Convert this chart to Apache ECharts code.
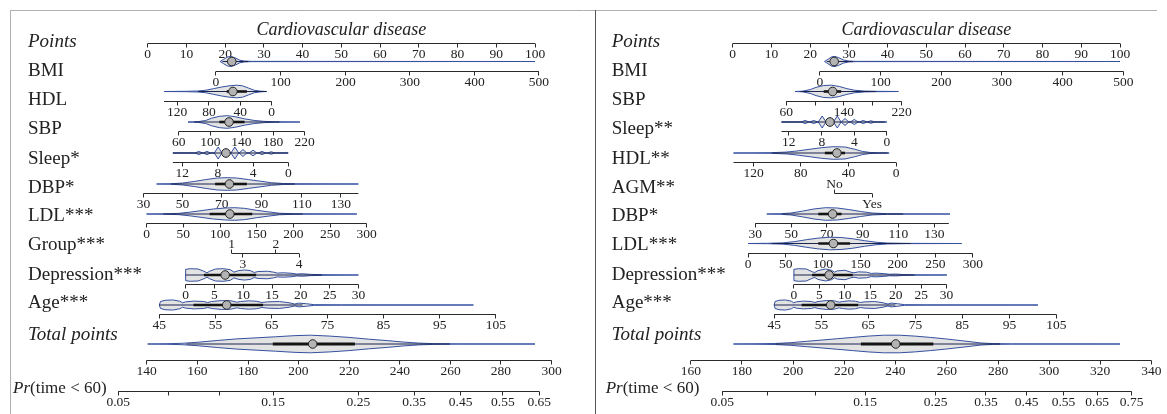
<!DOCTYPE html>
<html><head><meta charset="utf-8">
<script src="https://cdn.jsdelivr.net/npm/echarts@6/dist/echarts.min.js"></script>
<style>html,body{margin:0;padding:0;background:#fff}#c{width:1167px;height:414px}</style>
</head><body><div id="c"></div>
<script>
// ================= DATA =================
const titleText = 'Cardiovascular disease';
const pointsTicks = [0,10,20,30,40,50,60,70,80,90,100];

// ---- LEFT model: tick labels and their position on the Points scale ----
const L_BMI_ticks = ['0','100','200','300','400','500'];
const L_BMI_pos = [17.6,34.3,51.1,67.7,84.4,101.0];
const L_BMI_violin = [[18.7,0],[19.6,0.35],[20.6,0.7],[21.5,0.8],[22.5,0.6],[23.8,0.2],[25,0.06],[27,0.02],[100,0]];
const L_BMI_box = [19.3,20.9,21.7,22.7,26];

const L_HDL_ticks = ['120','80','40','0'];
const L_HDL_pos = [7.6,15.8,23.9,32.0];
const L_HDL_range = [4.2,32.0];
const L_HDL_violin = [[4.2,0],[10,0.03],[13,0.08],[15,0.2],[17,0.45],[19,0.7],[21,0.9],[23,1],[24.5,0.9],[26,0.55],[27.5,0.2],[29,0.06],[30.7,0]];
const L_HDL_box = [13,20.4,22.0,25.6,30.7];

const L_SBP_ticks = ['60','100','140','180','220'];
const L_SBP_pos = [8.0,16.2,24.2,32.4,40.5];
const L_SBP_violin = [[10.4,0],[13,0.05],[15,0.25],[16.5,0.6],[18.5,0.9],[20.5,1],[22.5,0.85],[25,0.5],[27.5,0.25],[30,0.1],[33,0.04],[39.3,0]];
const L_SBP_box = [12,18.5,21.0,25,34];

const L_Sleep_ticks = ['12','8','4','0'];
const L_Sleep_pos = [8.9,18.1,27.2,36.3];
const L_Sleep_range = [6.5,36.3];
const L_Sleep_dots = [[13.2,0.25],[15.3,0.25],[18.2,0.95],[20.2,0.7],[22.5,0.95],[24.6,0.55],[27.2,0.45],[29.5,0.25],[31.9,0.2]];
const L_Sleep_box = [6.5,20.2,20.2,20.2,36.2];

const L_DBP_ticks = ['30','50','70','90','110','130'];
const L_DBP_pos = [-1.1,9.0,19.1,29.4,39.8,49.9];
const L_DBP_range = [-1.1,54.4];
const L_DBP_violin = [[2.3,0],[6,0.04],[9,0.15],[12,0.4],[15,0.7],[18,0.95],[20.5,1],[23,0.95],[26,0.7],[29,0.45],[32,0.2],[35,0.08],[38,0.04],[54.4,0]];
const L_DBP_box = [6,17.4,21.1,25.6,38];

const L_LDL_ticks = ['0','50','100','150','200','250','300'];
const L_LDL_pos = [-0.3,9.2,18.7,28.1,37.6,47.1,56.5];
const L_LDL_violin = [[-0.3,0],[4,0.03],[8,0.1],[11,0.3],[14,0.55],[17,0.8],[20,0.95],[22.5,1],[25,0.9],[28,0.6],[31,0.35],[34,0.12],[38,0.04],[54,0]];
const L_LDL_box = [4,16,21.2,27,40];

const L_Group_ticks = ['1','2','3','4'];
const L_Group_pos = [21.7,33.1,24.6,39.1];
const L_Group_side = [-1,-1,1,1];

const L_Dep_ticks = ['0','5','10','15','20','25','30'];
const L_Dep_pos = [9.8,17.2,24.7,32.1,39.5,47.0,54.4];
const L_Dep_violin = [[9.8,0],[9.8,0.9],[11,1],[13,0.95],[14.5,0.6],[15.3,0.35],[16,0.6],[17.5,0.95],[19.5,1],[21.3,0.85],[22.3,0.45],[23.5,0.7],[25,0.8],[26.5,0.7],[27.5,0.4],[28.5,0.55],[31,0.6],[32.5,0.45],[33.5,0.3],[35,0.35],[37,0.28],[38.5,0.15],[40,0.2],[42,0.1],[45,0.05],[54.4,0]];
const L_Dep_box = [9.8,14.5,20.0,28,45];

const L_Age_ticks = ['45','55','65','75','85','95','105'];
const L_Age_pos = [3.0,17.5,32.0,46.4,60.9,75.4,89.9];
const L_Age_violin = [[3.0,0],[3.3,0.55],[4.5,0.75],[6.5,0.8],[8.3,0.6],[9.0,0.35],[9.8,0.5],[12,0.62],[14.5,0.55],[15.5,0.4],[16.5,0.55],[19,0.7],[21.5,0.66],[23,0.45],[24,0.55],[26,0.66],[28,0.6],[29.5,0.4],[31,0.5],[34,0.55],[36.5,0.35],[38,0.15],[39,0.3],[41,0.2],[43,0.05],[50,0.02],[84.1,0]];
const L_Age_box = [3.0,11.8,20.4,29.8,40];

const L_Total_ticks = ['140','160','180','200','220','240','260','280','300'];
const L_Total_pos = [-0.3,12.8,25.9,38.9,52.0,65.1,78.2,91.2,104.3];
const L_Total_violin = [[0,0],[5,0.03],[9,0.08],[13,0.2],[18,0.4],[23,0.58],[28,0.7],[33,0.82],[38,0.95],[42,1],[47,0.9],[52,0.75],[57,0.55],[62,0.38],[66,0.22],[70,0.1],[74,0.04],[80,0.01],[100,0]];
const L_Total_box = [10,32.3,42.6,53.5,78];

const L_Pr_ticks = ['0.05','','','0.15','0.25','0.35','0.45','0.55','0.65'];
const L_Pr_pos = [-7.6,5.3,18.5,32.4,54.4,68.8,80.8,91.7,101.1];

// ---- RIGHT model ----
const R_BMI_ticks = ['0','100','200','300','400','500'];
const R_BMI_pos = [22.5,38.2,53.9,69.5,85.2,100.9];
const R_BMI_violin = [[23.7,0],[24.6,0.35],[25.6,0.75],[26.4,0.8],[27.4,0.6],[28.6,0.25],[30,0.06],[32,0.02],[100,0]];
const R_BMI_box = [24.3,25.4,26.2,27.2,31];

const R_SBP_ticks = ['60','','140','','220'];
const R_SBP_pos = [13.8,21.3,28.7,36.2,43.6];
const R_SBP_violin = [[16.1,0],[18,0.05],[20,0.3],[21.5,0.65],[23.5,0.95],[25.5,1],[27.5,0.8],[29.5,0.45],[31.5,0.2],[34,0.07],[37,0.03],[42.8,0]];
const R_SBP_box = [17.5,23.5,25.8,28,37];

const R_Sleep_ticks = ['12','8','4','0'];
const R_Sleep_pos = [14.5,23.0,31.4,39.8];
const R_Sleep_range = [12.6,39.8];
const R_Sleep_dots = [[18.7,0.25],[20.9,0.25],[23.1,0.95],[25.1,0.7],[27.0,0.95],[29.0,0.55],[31.4,0.4],[33.7,0.25],[35.7,0.2]];
const R_Sleep_box = [12.6,25.1,25.1,25.1,39.3];

const R_HDL_ticks = ['120','80','40','0'];
const R_HDL_pos = [5.4,17.6,29.9,42.2];
const R_HDL_range = [0.2,42.2];
const R_HDL_violin = [[0.2,0],[6,0.02],[10,0.05],[14,0.15],[17,0.35],[20,0.6],[23,0.85],[26,1],[29,0.95],[31.5,0.6],[33.5,0.25],[35.5,0.08],[38,0.02],[40.4,0]];
const R_HDL_box = [10,23.8,26.9,29.0,40];

const R_AGM_ticks = ['No','Yes'];
const R_AGM_pos = [26.3,36.0];
const R_AGM_side = [-1,1];

const R_DBP_ticks = ['30','50','70','90','110','130'];
const R_DBP_pos = [5.8,15.1,24.3,33.6,42.8,52.1];
const R_DBP_range = [5.8,55.8];
const R_DBP_violin = [[8.8,0],[12,0.04],[15,0.15],[18,0.45],[21,0.8],[24,1],[27,0.95],[30,0.7],[33,0.4],[36,0.15],[40,0.05],[45,0.02],[56.1,0]];
const R_DBP_box = [13,22.1,25.8,28.1,44];

const R_LDL_ticks = ['0','50','100','150','200','250','300'];
const R_LDL_pos = [4.0,13.7,23.3,33.0,42.6,52.3,62.0];
const R_LDL_violin = [[4,0],[9,0.03],[13,0.1],[16,0.3],[19,0.6],[22,0.85],[25,1],[28,0.95],[31,0.75],[34,0.45],[37,0.2],[40,0.07],[45,0.02],[59.1,0]];
const R_LDL_box = [10,22.1,26.0,30.3,46];

const R_Dep_ticks = ['0','5','10','15','20','25','30'];
const R_Dep_pos = [15.8,22.4,28.9,35.5,42.1,48.7,55.2];
const R_Dep_violin = [[15.8,0],[15.8,0.9],[17,1],[19,0.95],[20.6,0.5],[21.2,0.4],[22,0.7],[24,0.95],[25.5,0.75],[26.3,0.45],[27,0.65],[29,0.75],[30.5,0.45],[31.3,0.35],[32.5,0.5],[34.5,0.45],[35.8,0.25],[37,0.3],[39,0.22],[40.5,0.12],[42,0.15],[44,0.07],[47,0.03],[55.3,0]];
const R_Dep_box = [15.8,20.5,24.9,31,47];

const R_Age_ticks = ['45','55','65','75','85','95','105'];
const R_Age_pos = [10.7,22.9,35.0,47.2,59.3,71.5,83.6];
const R_Age_violin = [[10.7,0],[10.95,0.55],[11.96,0.75],[13.64,0.8],[15.15,0.6],[15.74,0.35],[16.41,0.5],[18.25,0.62],[20.35,0.55],[21.19,0.4],[22.03,0.55],[24.13,0.7],[26.23,0.66],[27.48,0.45],[28.32,0.55],[30.0,0.66],[31.68,0.6],[32.94,0.4],[34.2,0.5],[36.7,0.55],[38.8,0.35],[40.1,0.15],[40.9,0.3],[42.6,0.2],[44.3,0.05],[50.1,0.02],[78.8,0]];
const R_Age_box = [10.7,17.8,25.3,32.4,42];

const R_Total_ticks = ['160','180','200','220','240','260','280','300','320','340'];
const R_Total_pos = [-10.8,2.4,15.6,28.8,42.0,55.3,68.5,81.7,94.9,108.1];
const R_Total_violin = [[0.2,0],[6,0.02],[11,0.06],[15,0.15],[19,0.3],[23,0.45],[27,0.6],[31,0.75],[35,0.9],[39,1],[43,1],[47,0.9],[51,0.75],[55,0.58],[57,0.48],[59,0.38],[61,0.28],[64,0.12],[67,0.05],[72,0.01],[100,0]];
const R_Total_box = [11,33.1,42.1,51.8,69];

const R_Pr_ticks = ['0.05','','','0.15','0.25','0.35','0.45','0.55','0.65','0.75'];
const R_Pr_pos = [-2.7,9.1,21.3,34.2,52.4,65.4,75.9,85.4,94.1,103.0];

// ================= ASSEMBLY =================
const leftRows = [
  {label:'BMI', ticks:L_BMI_ticks, pos:L_BMI_pos, violin:L_BMI_violin, box:L_BMI_box},
  {label:'HDL', ticks:L_HDL_ticks, pos:L_HDL_pos, range:L_HDL_range, violin:L_HDL_violin, box:L_HDL_box},
  {label:'SBP', ticks:L_SBP_ticks, pos:L_SBP_pos, violin:L_SBP_violin, box:L_SBP_box},
  {label:'Sleep*', ticks:L_Sleep_ticks, pos:L_Sleep_pos, range:L_Sleep_range, dots:L_Sleep_dots, box:L_Sleep_box},
  {label:'DBP*', ticks:L_DBP_ticks, pos:L_DBP_pos, range:L_DBP_range, violin:L_DBP_violin, box:L_DBP_box},
  {label:'LDL***', ticks:L_LDL_ticks, pos:L_LDL_pos, violin:L_LDL_violin, box:L_LDL_box},
  {label:'Group***', ticks:L_Group_ticks, pos:L_Group_pos, side:L_Group_side},
  {label:'Depression***', ticks:L_Dep_ticks, pos:L_Dep_pos, violin:L_Dep_violin, box:L_Dep_box},
  {label:'Age***', ticks:L_Age_ticks, pos:L_Age_pos, violin:L_Age_violin, box:L_Age_box}
];
const rightRows = [
  {label:'BMI', ticks:R_BMI_ticks, pos:R_BMI_pos, violin:R_BMI_violin, box:R_BMI_box},
  {label:'SBP', ticks:R_SBP_ticks, pos:R_SBP_pos, violin:R_SBP_violin, box:R_SBP_box},
  {label:'Sleep**', ticks:R_Sleep_ticks, pos:R_Sleep_pos, range:R_Sleep_range, dots:R_Sleep_dots, box:R_Sleep_box},
  {label:'HDL**', ticks:R_HDL_ticks, pos:R_HDL_pos, range:R_HDL_range, violin:R_HDL_violin, box:R_HDL_box},
  {label:'AGM**', ticks:R_AGM_ticks, pos:R_AGM_pos, side:R_AGM_side},
  {label:'DBP*', ticks:R_DBP_ticks, pos:R_DBP_pos, range:R_DBP_range, violin:R_DBP_violin, box:R_DBP_box},
  {label:'LDL***', ticks:R_LDL_ticks, pos:R_LDL_pos, violin:R_LDL_violin, box:R_LDL_box},
  {label:'Depression***', ticks:R_Dep_ticks, pos:R_Dep_pos, violin:R_Dep_violin, box:R_Dep_box},
  {label:'Age***', ticks:R_Age_ticks, pos:R_Age_pos, violin:R_Age_violin, box:R_Age_box}
];
const leftPanel = {rows:leftRows, total:{ticks:L_Total_ticks,pos:L_Total_pos,violin:L_Total_violin,box:L_Total_box}, pr:{ticks:L_Pr_ticks,pos:L_Pr_pos}, labelDx:-119.7, prDx:-134.7};
const rightPanel = {rows:rightRows, total:{ticks:R_Total_ticks,pos:R_Total_pos,violin:R_Total_violin,box:R_Total_box}, pr:{ticks:R_Pr_ticks,pos:R_Pr_pos}, labelDx:-121, prDx:-127};

// ================= LAYOUT / STYLE =================
const SERIF = '"Liberation Serif","Times New Roman",serif';
const LBL_FONT = '19px ' + SERIF;
const ITAL_FONT = 'italic 19px ' + SERIF;
const TICK_FONT = '13.5px ' + SERIF;
const AX = '#2a2a2a', TXT = '#222';
const BLUE = '#3450a0', FILL = '#e3e3e3', DARK = '#1c2550';
const layout = {
  titleY: 30, pointsY: 43.5, pointsLabelY: 42,
  rowAxisY: [71,101,131.5,162.5,193.5,223.5,253,284.5,314.5],
  rowLabelY: [71,100,129,159,188,216,245,275,303],
  violinDy: -9.5,
  totalAxisY: 360, totalViolinY: 344, totalLabelY: 335,
  prAxisY: 391, prLabelY: 389,
  H: 6.3, Htotal: 8.8, tick: 4, lblDown: 11, lblUp: 9,
  iqrW: 2.6, iqrWTotal: 3.2, dotHalfW: 1.0
};

function snap(v){ return Math.round(v - 0.5) + 0.5; }

function drawAxis(ch, X, y, labels, pos, range, side) {
  y = snap(y);
  const lo = range ? range[0] : Math.min.apply(null,pos);
  const hi = range ? range[1] : Math.max.apply(null,pos);
  ch.push({type:'line', shape:{x1:X(lo), y1:y, x2:X(hi), y2:y}, style:{stroke:AX, lineWidth:1}});
  pos.forEach(function(p,i){
    const s = side ? side[i] : 1;
    const x = snap(X(p));
    ch.push({type:'line', shape:{x1:x, y1:y, x2:x, y2:y + s*layout.tick}, style:{stroke:AX, lineWidth:1}});
    if (labels[i] !== '') {
      ch.push({type:'text', style:{text:labels[i], x:X(p), y: y + (s>0 ? layout.lblDown : -layout.lblUp), font:TICK_FONT, fill:TXT, align:'center', verticalAlign:'middle'}});
    }
  });
}

function drawViolin(ch, X, yc, shape, box, H, iqrW) {
  const up = shape.map(function(d){ return [X(d[0]), yc - d[1]*H]; });
  const dn = shape.slice().reverse().map(function(d){ return [X(d[0]), yc + d[1]*H]; });
  ch.push({type:'polygon', shape:{points: up.concat(dn)}, style:{fill:FILL, stroke:BLUE, lineWidth:1}});
  ch.push({type:'line', shape:{x1:X(box[0]), y1:yc, x2:X(box[4]), y2:yc}, style:{stroke:DARK, lineWidth:1.1}});
  if (box[3] > box[1]) ch.push({type:'line', shape:{x1:X(box[1]), y1:yc, x2:X(box[3]), y2:yc}, style:{stroke:'#141414', lineWidth:iqrW}});
  ch.push({type:'circle', shape:{cx:X(box[2]), cy:yc, r:4.3}, style:{fill:'#b3b3b3', stroke:'#222', lineWidth:1}});
}

function dotsToShape(dots, range) {
  const hw = layout.dotHalfW;
  const s = [[range[0],0]];
  dots.forEach(function(d){ s.push([d[0]-hw,0],[d[0],d[1]],[d[0]+hw,0]); });
  s.push([range[1],0]);
  return s;
}

function renderPanel(P) {
  return function(params, api) {
    const X = function(p){ return api.coord([p, 0])[0]; };
    const Y = function(v){ return api.coord([0, v])[1]; };
    const ch = [];
    const x0 = X(0);
    ch.push({type:'text', style:{text:titleText, x:(X(0)+X(100))/2, y:Y(layout.titleY), font:'italic 18px '+SERIF, fill:TXT, align:'center', verticalAlign:'middle'}});
    ch.push({type:'text', style:{text:'Points', x:x0 + P.labelDx, y:Y(layout.pointsLabelY), font:ITAL_FONT, fill:TXT, align:'left', verticalAlign:'middle'}});
    drawAxis(ch, X, Y(layout.pointsY), pointsTicks.map(String), pointsTicks, null, null);
    P.rows.forEach(function(r, i){
      const ya = Y(layout.rowAxisY[i]);
      ch.push({type:'text', style:{text:r.label, x:x0 + P.labelDx, y:Y(layout.rowLabelY[i]), font:LBL_FONT, fill:TXT, align:'left', verticalAlign:'middle'}});
      if (r.violin) drawViolin(ch, X, ya + layout.violinDy, r.violin, r.box, layout.H, layout.iqrW);
      if (r.dots) drawViolin(ch, X, ya + layout.violinDy, dotsToShape(r.dots, r.range), r.box, layout.H, layout.iqrW);
      drawAxis(ch, X, ya, r.ticks, r.pos, r.range, r.side);
    });
    ch.push({type:'text', style:{text:'Total points', x:x0 + P.labelDx, y:Y(layout.totalLabelY), font:ITAL_FONT, fill:TXT, align:'left', verticalAlign:'middle'}});
    drawViolin(ch, X, Y(layout.totalViolinY), P.total.violin, P.total.box, layout.Htotal, layout.iqrWTotal);
    drawAxis(ch, X, Y(layout.totalAxisY), P.total.ticks, P.total.pos, null, null);
    ch.push({type:'text', style:{text:'{i|Pr}(time < 60)', x:x0 + P.prDx, y:Y(layout.prLabelY), font:'17px '+SERIF, fill:TXT, align:'left', verticalAlign:'middle',
      rich:{i:{fontStyle:'italic', fontSize:17, fontFamily:SERIF, fill:TXT, color:TXT}}}});
    drawAxis(ch, X, Y(layout.prAxisY), P.pr.ticks, P.pr.pos, null, null);
    return {type:'group', children:ch};
  };
}

const chart = echarts.init(document.getElementById('c'), null, {renderer:'canvas'});
chart.setOption({
  animation:false,
  backgroundColor:'#fff',
  grid:[
    {left:147.7, width:387.3, top:0, height:414, outerBoundsMode:'none'},
    {left:732.7, width:387.3, top:0, height:414, outerBoundsMode:'none'}
  ],
  xAxis:[
    {gridIndex:0, type:'value', min:0, max:100, show:false},
    {gridIndex:1, type:'value', min:0, max:100, show:false}
  ],
  yAxis:[
    {gridIndex:0, type:'value', min:0, max:414, inverse:true, show:false},
    {gridIndex:1, type:'value', min:0, max:414, inverse:true, show:false}
  ],
  graphic:[
    {type:'line', shape:{x1:10, y1:10.5, x2:1157, y2:10.5}, style:{stroke:'#b0b0b0', lineWidth:1}},
    {type:'line', shape:{x1:10.5, y1:10, x2:10.5, y2:414}, style:{stroke:'#b0b0b0', lineWidth:1}},
    {type:'line', shape:{x1:595.5, y1:10, x2:595.5, y2:414}, style:{stroke:'#555', lineWidth:1}}
  ],
  series:[
    {type:'custom', xAxisIndex:0, yAxisIndex:0, data:[[0,0]], renderItem:renderPanel(leftPanel), clip:false, silent:true},
    {type:'custom', xAxisIndex:1, yAxisIndex:1, data:[[0,0]], renderItem:renderPanel(rightPanel), clip:false, silent:true}
  ]
});
</script>
</body></html>
